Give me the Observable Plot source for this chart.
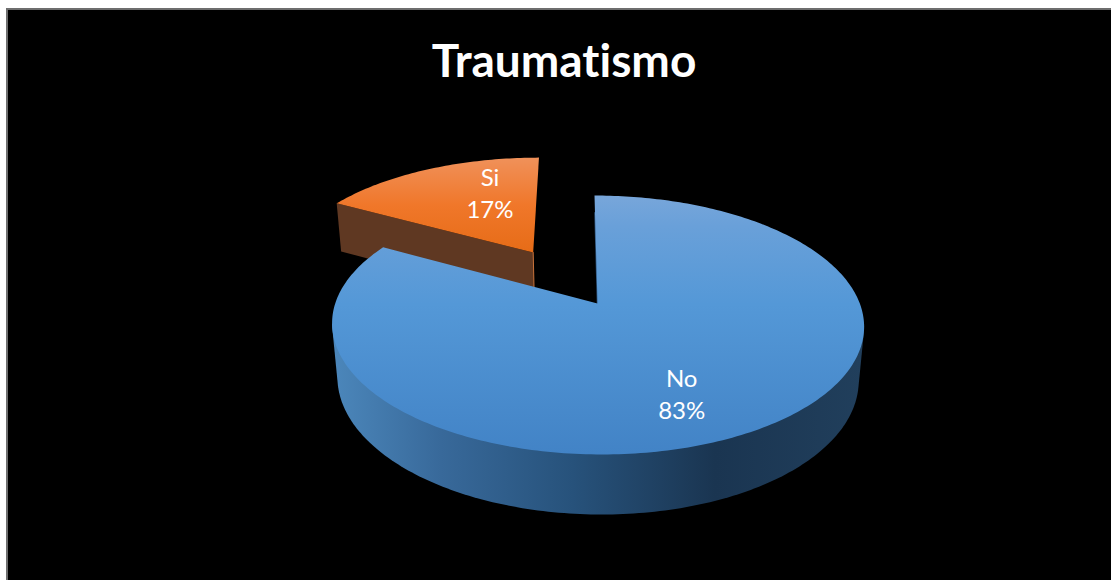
<!DOCTYPE html>
<html>
<head>
<meta charset="utf-8">
<script src="https://cdn.jsdelivr.net/npm/d3@7"></script>
<script src="https://cdn.jsdelivr.net/npm/@observablehq/plot@0.6"></script>
<style>
  html, body { margin: 0; padding: 0; background: #fff; overflow: hidden; }
  #frame {
    position: absolute; left: 6px; top: 8px; width: 1105px; height: 572px;
    background: #000; box-sizing: border-box;
    border-left: 2px solid #6e6e6e; border-top: 2px solid #6e6e6e;
    font-family: Lato, sans-serif; font-variant-ligatures: none;
  }
  #title {
    margin: 0; height: 90px; line-height: 100px; color: #fff;
    font-size: 46px; font-weight: 700; text-align: center;
    width: 1112px;
  }
  svg { display: block; background: #000; }
</style>
</head>
<body>
<div id="frame"><h1 id="title">Traumatismo</h1></div>
<script>
const chartTitle = "Traumatismo";
const categories = ["No", "Si"];
const shares = [83, 17];

// Frame offset of the SVG inside the page, used to work in page-like units.
const originX = 8, originY = 100;

// Perspective view of the pie: a unit disc lying flat, tipped away from the viewer.
const view = {cx: 597, cy: 303, rx: 262.3, ry: 125.9, skew: -3.5, tilt: 0.166, shrink: 0.02, drop: 54.3};
function project(u, v, z = 0) {
  const w = 1 + view.tilt * v + view.shrink * z;
  return {
    x: view.cx - originX + (view.rx * u + view.skew * v) / w,
    y: view.cy - originY + (-view.ry * v + view.drop * z) / w
  };
}

// Slices run clockwise from twelve o'clock; the smaller one is pulled out.
const explode = {No: 0, Si: 0.505};
const labelPolar = {No: {r: 0.691, a: 156.2}, Si: {r: 0.645, a: 341}};
const arcs = d3.pie().sort(null)(shares).map((d, i) => {
  const name = categories[i];
  const mid = (d.startAngle + d.endAngle) / 2;
  return {name, value: d.value, a0: d.startAngle, a1: d.endAngle,
          du: explode[name] * Math.sin(mid), dv: explode[name] * Math.cos(mid)};
});
const onDisc = (s, a, r = 1, z = 0) =>
  project(s.du + r * Math.sin(a), s.dv + r * Math.cos(a), z);
const arcPoints = (s, z = 0, a0 = s.a0, a1 = s.a1) => {
  const n = Math.ceil((a1 - a0) / (Math.PI / 180));
  return d3.range(n + 1).map(i => onDisc(s, a0 + (a1 - a0) * i / n, 1, z));
};
const topFace = s => [onDisc(s, 0, 0), ...arcPoints(s)];
// The visible rim is the hull of the near part of the top and bottom edges;
// the top face is painted over whatever the hull covers behind it.
const outerWall = s => {
  const from = Math.PI * 0.55, to = Math.PI * 1.45;
  const near = [...arcPoints(s, 0, from, to), ...arcPoints(s, 1, from, to)];
  return d3.polygonHull(near.map(p => [p.x, p.y])).map(([x, y]) => ({x, y}));
};
const cutWall = (s, a) => [onDisc(s, 0, 0), onDisc(s, a), onDisc(s, a, 1, 1), onDisc(s, 0, 0, 1)];

const [no, si] = arcs;
const labels = arcs.map(s => {
  const p = labelPolar[s.name], a = p.a * Math.PI / 180;
  return {...onDisc(s, a, p.r), text: `${s.name}\n${s.value}%`};
});

// Gradients for the shaded faces.
function gradients() {
  const defs = d3.create("svg:defs");
  const add = (id, x1, y1, x2, y2, stops) => {
    const g = defs.append("linearGradient").attr("id", id)
      .attr("gradientUnits", "userSpaceOnUse")
      .attr("x1", x1 - originX).attr("y1", y1 - originY)
      .attr("x2", x2 - originX).attr("y2", y2 - originY);
    stops.forEach(([o, c]) => g.append("stop").attr("offset", o).attr("stop-color", c));
  };
  add("blueTop", 0, 195, 0, 454, [[0, "#78a6da"], [0.12, "#69a0d9"], [0.42, "#5498d7"], [1, "#4283c6"]]);
  add("blueWall", 335, 0, 862, 0, [[0, "#4b86ba"], [0.2, "#38699a"], [0.45, "#27527b"], [0.72, "#1a3551"], [1, "#213f5c"]]);
  add("orangeTop", 0, 157, 0, 252, [[0, "#f0915a"], [0.5, "#f0772a"], [1, "#e66c17"]]);
  return defs.node();
}

const chart = Plot.plot({
  width: 1103,
  height: 470,
  margin: 0,
  x: {type: "identity", axis: null},
  y: {type: "identity", axis: null},
  style: {background: "#000", fontFamily: "Lato, sans-serif"},
  marks: [
    gradients,
    Plot.line(cutWall(si, si.a0), {x: "x", y: "y", fill: "#5f3822", stroke: "none"}),
    Plot.line([onDisc(si, 0, 0), onDisc(si, 0, 0, 1)], {x: "x", y: "y", stroke: "#c9733a", strokeWidth: 1}),
    Plot.line(topFace(si), {x: "x", y: "y", fill: "url(#orangeTop)", stroke: "none"}),
    Plot.line(outerWall(no), {x: "x", y: "y", fill: "url(#blueWall)", stroke: "none"}),
    Plot.line([onDisc(no, 0, 0.82), onDisc(no, 0, 0)], {x: "x", y: "y", stroke: "#2b4f75", strokeWidth: 1.5}),
    Plot.line(topFace(no), {x: "x", y: "y", fill: "url(#blueTop)", stroke: "none"}),
    Plot.text(labels, {x: "x", y: "y", text: "text", fill: "#fff", fontSize: 24, lineHeight: 1.35})
  ]
});
document.getElementById("title").textContent = chartTitle;
document.getElementById("frame").appendChild(chart);
</script>
</body>
</html>
